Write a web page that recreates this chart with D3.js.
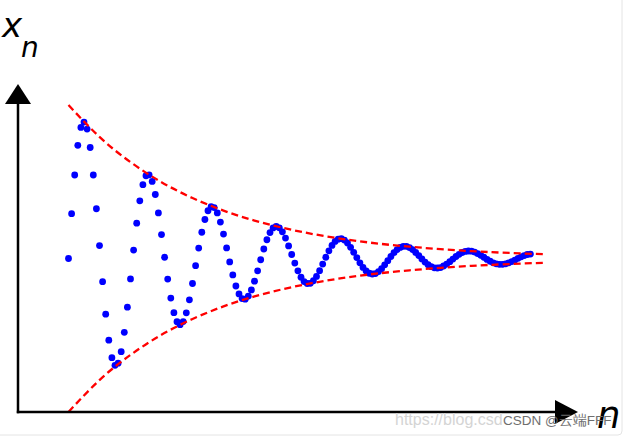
<!DOCTYPE html>
<html>
<head>
<meta charset="utf-8">
<script src="https://cdn.jsdelivr.net/npm/d3@7"></script>
<style>
    body { margin: 0; background: #fff; }
    svg { display: block; }
    .label { font-family: 'DejaVu Sans', sans-serif; font-style: italic; fill: #000; }
    .mark { font-family: 'Liberation Sans', Arial, sans-serif; }
</style>
</head>
<body>
<svg id="chart"></svg>
<script>
const WIDTH = 624
const HEIGHT = 437

// sequence values x_n, n = 0 .. 149
const xValues = [
    1.000, 1.292, 1.544, 1.737, 1.854, 1.889, 1.843, 1.723, 1.544, 1.324,
    1.084, 0.849, 0.637, 0.468, 0.354, 0.304, 0.318, 0.393, 0.519, 0.683,
    0.867, 1.055, 1.230, 1.376, 1.481, 1.539, 1.545, 1.502, 1.417, 1.297,
    1.156, 1.008, 0.866, 0.742, 0.647, 0.588, 0.569, 0.589, 0.646, 0.731,
    0.837, 0.953, 1.068, 1.171, 1.254, 1.311, 1.337, 1.332, 1.297, 1.237,
    1.159, 1.069, 0.978, 0.893, 0.821, 0.769, 0.739, 0.735, 0.755, 0.795,
    0.852, 0.920, 0.992, 1.062, 1.122, 1.169, 1.199, 1.209, 1.200, 1.174,
    1.133, 1.082, 1.026, 0.970, 0.920, 0.878, 0.850, 0.837, 0.838, 0.855,
    0.883, 0.921, 0.964, 1.008, 1.050, 1.085, 1.111, 1.126, 1.129, 1.120,
    1.101, 1.073, 1.040, 1.006, 0.972, 0.942, 0.919, 0.904, 0.899, 0.902,
    0.915, 0.934, 0.959, 0.986, 1.013, 1.038, 1.058, 1.072, 1.079, 1.079,
    1.071, 1.058, 1.039, 1.019, 0.997, 0.977, 0.960, 0.947, 0.939, 0.938,
    0.941, 0.951, 0.964, 0.979, 0.996, 1.013, 1.027, 1.039, 1.046, 1.049,
    1.048, 1.042, 1.032, 1.021, 1.008, 0.994, 0.982, 0.972, 0.965, 0.962,
    0.962, 0.965, 0.972, 0.980, 0.990, 1.001, 1.011, 1.019, 1.026, 1.029,
]

// envelope curves
const envelopeN = [0, 10, 20, 30, 40, 50, 60, 70, 80, 90, 100, 110, 120, 130, 140, 150, 154]
const envelopeUpper = [2.000, 1.792, 1.628, 1.497, 1.394, 1.312, 1.247, 1.196, 1.155, 1.123, 1.097, 1.077, 1.061, 1.048, 1.038, 1.030, 1.028]
const envelopeLower = [0.000, 0.208, 0.372, 0.503, 0.606, 0.688, 0.753, 0.804, 0.845, 0.877, 0.903, 0.923, 0.939, 0.952, 0.962, 0.970, 0.972]

const AXIS_LABEL_Y = 'x'
const AXIS_LABEL_Y_SUB = 'n'
const AXIS_LABEL_X = 'n'

const svg = d3.select('#chart')
    .attr('width', WIDTH)
    .attr('height', HEIGHT)
    .attr('viewBox', [0, 0, WIDTH, HEIGHT].join(' '))

const xScale = d3.scaleLinear().domain([0, 149]).range([68.5, 530.4])
const yScale = d3.scaleLinear().domain([0, 2]).range([412, 105])

// Dots
svg.append('g')
    .selectAll('circle')
    .data(xValues)
    .join('circle')
    .attr('cx', (d, i) => xScale(i))
    .attr('cy', d => yScale(d))
    .attr('r', 3.4)
    .attr('fill', '#0000ff')

// Envelope
const envLine = values => d3.line()
    .x((d, i) => xScale(envelopeN[i]))
    .y(d => yScale(d))
    .curve(d3.curveNatural)(values)

for (const values of [envelopeUpper, envelopeLower]) {
    svg.append('path')
        .attr('d', envLine(values))
        .attr('fill', 'none')
        .attr('stroke', '#ff0000')
        .attr('stroke-width', 2.3)
        .attr('stroke-dasharray', '7,4')
}

// Axes with arrow heads
const origin = { x: 18, y: 412 }
const axes = svg.append('g')
axes.append('line')
    .attr('x1', origin.x).attr('y1', origin.y + 1.2)
    .attr('x2', origin.x).attr('y2', 100)
    .attr('stroke', '#000').attr('stroke-width', 2.5)
axes.append('line')
    .attr('x1', origin.x - 1.2).attr('y1', origin.y)
    .attr('x2', 560).attr('y2', origin.y)
    .attr('stroke', '#000').attr('stroke-width', 2.5)
axes.append('path')
    .attr('d', `M${origin.x},84 L${origin.x + 13},104 L${origin.x - 13},104 Z`)
    .attr('fill', '#000')
axes.append('path')
    .attr('d', `M578,${origin.y} L555,${origin.y - 12} L555,${origin.y + 12} Z`)
    .attr('fill', '#000')

// Axis titles
const yTitle = svg.append('text').attr('class', 'label')
yTitle.append('tspan').attr('x', 2).attr('y', 37).attr('font-size', 34).text(AXIS_LABEL_Y)
yTitle.append('tspan').attr('x', 21).attr('y', 57).attr('font-size', 28).text(AXIS_LABEL_Y_SUB)

svg.append('text').attr('class', 'label')
    .attr('x', 597).attr('y', 428)
    .attr('font-size', 37)
    .text(AXIS_LABEL_X)

// Watermark and frame
svg.append('text').attr('class', 'mark')
    .attr('x', 395).attr('y', 425)
    .attr('font-size', 16)
    .attr('fill', '#d4d4d4')
    .text('https://blog.csd')
svg.append('text').attr('class', 'mark')
    .attr('x', 503).attr('y', 425)
    .attr('font-size', 13.5)
    .attr('fill', '#6e6e6e')
    .text('CSDN @云端FFF')

svg.append('rect')
    .attr('x', -5).attr('y', -5)
    .attr('width', 627).attr('height', 440)
    .attr('rx', 4)
    .attr('fill', 'none')
    .attr('stroke', '#e4e4e4')
    .attr('stroke-width', 1)
</script>
</body>
</html>
